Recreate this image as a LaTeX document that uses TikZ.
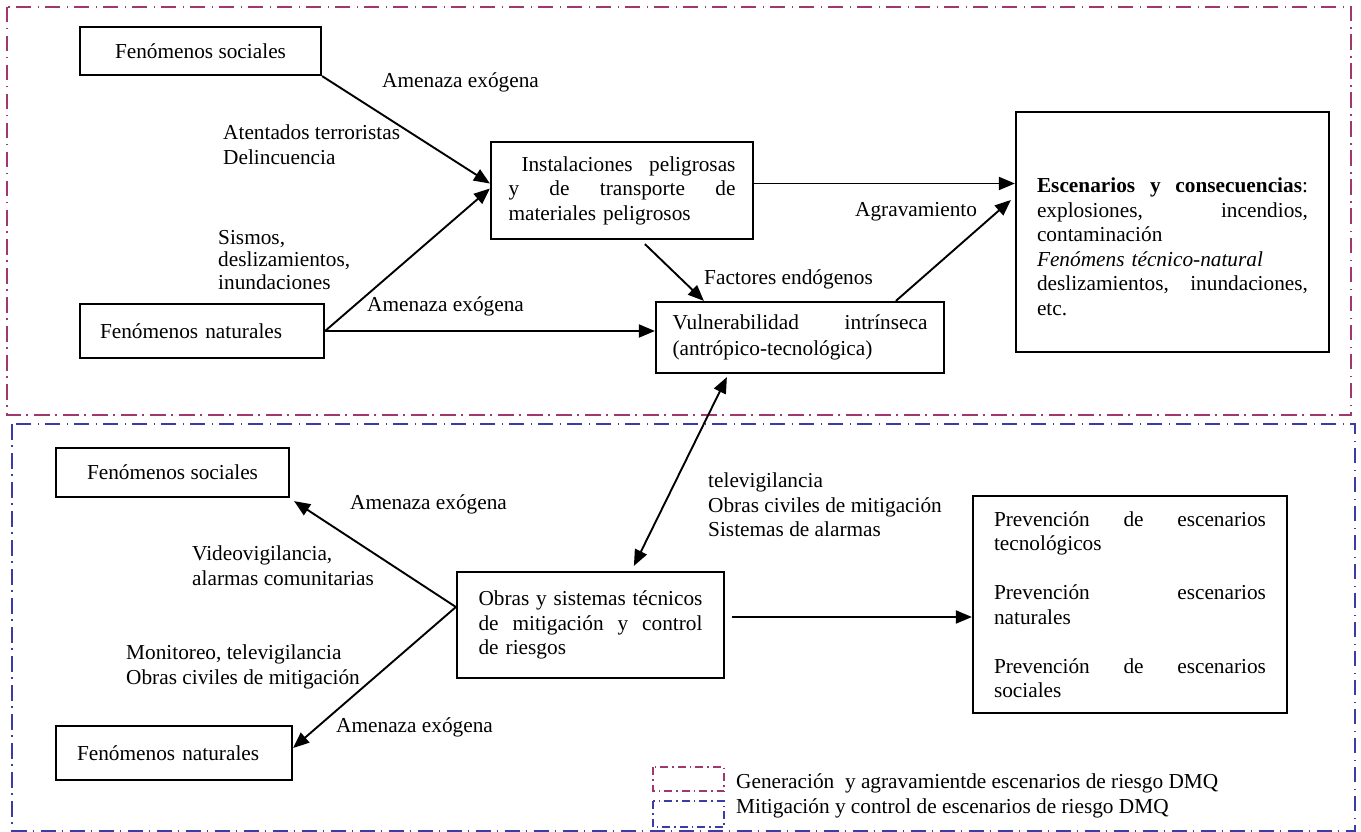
\documentclass[tikz,border=0pt]{standalone}
\usepackage{fontspec}
\setmainfont{Liberation Serif}
\usetikzlibrary{arrows.meta,calc}

\definecolor{genred}{RGB}{160,55,110}
\definecolor{mitblue}{RGB}{60,60,168}

% a line of text spread over a given width (justified line, \hfill between words)
\newcommand{\justline}[2]{\makebox[#1][l]{#2}}

\tikzset{
  every node/.style={font=\fontsize{21.3}{24.5}\selectfont},
  box/.style={draw, line width=2.2pt, inner sep=0pt, align=left},
  arr/.style={line width=1.9pt, -{Triangle[length=16pt,width=13pt]}},
  dbl/.style={line width=1.9pt, {Triangle[length=16pt,width=13pt]}-{Triangle[length=16pt,width=13pt]}},
  lbl/.style={anchor=north west, inner sep=0pt, align=left, yshift=17.15pt,
              execute at begin node={\rule{0pt}{17.15pt}}},
  zonegen/.style={draw=genred, line width=2pt,
                  dash pattern=on 15.5pt off 5.5pt on 1.5pt off 6.5pt},
  zonemit/.style={draw=mitblue, line width=2pt,
                  dash pattern=on 15.5pt off 5.5pt on 1.5pt off 6.5pt},
  keygen/.style={draw=genred, line width=1.5pt,
                 dash pattern=on 8pt off 4pt on 1.5pt off 4pt},
  keymit/.style={draw=mitblue, line width=1.5pt,
                 dash pattern=on 8pt off 4pt on 1.5pt off 4pt},
}

\begin{document}
\begin{tikzpicture}[x=1pt,y=-1pt]
\useasboundingbox (0,0) rectangle (1361,832);

% zones
\draw[zonegen] (7,7) rectangle (1351,415);
\draw[zonemit] (12,424) rectangle (1355,830.5);

% ---- generation and aggravation ----
\node[box, align=center, minimum width=241pt, minimum height=48pt] (fsoc) at (200.5,51)
  {Fenómenos sociales};
\node[box, text width=204pt, minimum width=244pt, minimum height=54pt] (fnat) at (202,331)
  {Fenómenos naturales};
\node[box, text width=227pt, minimum width=262pt, minimum height=97pt] (inst) at (622,190.5)
  {\hspace*{13pt}\justline{214pt}{Instalaciones\hfill peligrosas}\\
   \justline{227pt}{y\hfill de\hfill transporte\hfill de}\\
   materiales peligrosos};
\node[box, text width=255pt, minimum width=288pt, minimum height=71pt] (vuln) at (800,337.5)
  {\justline{255pt}{Vulnerabilidad\hfill intrínseca}\\[1.5pt]
   (antrópico-tecnológica)};
\node[box, text width=271pt, minimum width=313pt, minimum height=240pt] (esc) at (1172.5,232)
  {\mbox{}\\[20pt]
   \justline{271pt}{\textbf{Escenarios}\hfill\textbf{y}\hfill\textbf{consecuencias}:}\\
   \justline{271pt}{explosiones,\hfill incendios,}\\
   contaminación\\
   \textit{Fenómens técnico-natural}\\
   \justline{271pt}{deslizamientos,\hfill inundaciones,}\\
   etc.};

\draw[arr] (fsoc.south east) -- ($(inst.west)+(0,-7)$);
\draw[arr] (fnat.east) -- ($(inst.west)+(0,-2)$);
\draw[arr] (fnat.east) -- (fnat.east -| vuln.west);
\coordinate (instout) at ($(inst.east)+(0,-7)$);
\draw[arr] (instout) -- (instout -| esc.west);
\draw[arr] ($(inst.south west)+(155,4)$) -- ($(vuln.north west)+(49,0)$);
\draw[arr] ($(vuln.north west)+(241,0)$) -- ($(esc.west)+(-4,-32)$);

\node[lbl] (amen1) at (382,87) {Amenaza exógena};
\node[lbl] (atent) at (223,142) {Atentados terroristas\\Delincuencia};
\node[lbl, font=\fontsize{21.3}{22.8}\selectfont] (sismos) at (218,247)
  {Sismos,\\deslizamientos,\\inundaciones};
\node[lbl] (amen2) at (367,311) {Amenaza exógena};
\node[lbl] (agrav) at (855,216) {Agravamiento};
\node[lbl] (endog) at (704,284) {Factores endógenos};

% ---- mitigation and control ----
\node[box, align=center, minimum width=233pt, minimum height=49pt] (fsocb) at (172.5,472.5)
  {Fenómenos sociales};
\node[box, text width=194pt, minimum width=236pt, minimum height=54pt] (fnatb) at (174,753)
  {Fenómenos naturales};
\node[box, text width=224pt, minimum width=267pt, minimum height=106pt] (obras) at (590.5,625)
  {\justline{224pt}{Obras\hfill y\hfill sistemas\hfill técnicos}\\
   \justline{224pt}{de\hfill mitigación\hfill y\hfill control}\\
   de riesgos};
\node[box, text width=272pt, minimum width=314pt, minimum height=217pt] (prev) at (1130,604.5)
  {\justline{272pt}{Prevención\hfill de\hfill escenarios}\\
   tecnológicos\\
   \mbox{}\\
   \justline{272pt}{Prevención\hfill escenarios}\\
   naturales\\
   \mbox{}\\
   \justline{272pt}{Prevención\hfill de\hfill escenarios}\\
   sociales};

\draw[dbl] ($(vuln.south west)+(72,3)$) -- ($(obras.north west)+(178,-5)$);
\coordinate (obrasin) at ($(obras.west)+(0,-18)$);
\draw[arr] (obrasin) -- ($(fsocb.south east)+(4,3)$);
\draw[arr] (obrasin) -- ($(fnatb.east)+(0,-5)$);
\coordinate (obrasout) at ($(obras.east)+(7,-8)$);
\draw[arr] (obrasout) -- (obrasout -| prev.west);

\node[lbl] (amen3) at (350,509) {Amenaza exógena};
\node[lbl] (video) at (192,563) {Videovigilancia,\\alarmas comunitarias};
\node[lbl] (monit) at (126,662) {Monitoreo, televigilancia\\Obras civiles de mitigación};
\node[lbl] (amen4) at (336,732) {Amenaza exógena};
\node[lbl] (telev) at (708,490) {televigilancia\\Obras civiles de mitigación\\Sistemas de alarmas};

% ---- key ----
\draw[keygen] (653,767) rectangle (724,791);
\draw[keymit] (653,801) rectangle (724,827);
\node[lbl] (keygentext) at (736,788) {Generación\ \ y agravamientde escenarios de riesgo DMQ};
\node[lbl] (keymittext) at (736,813) {Mitigación y control de escenarios de riesgo DMQ};
\end{tikzpicture}
\end{document}
